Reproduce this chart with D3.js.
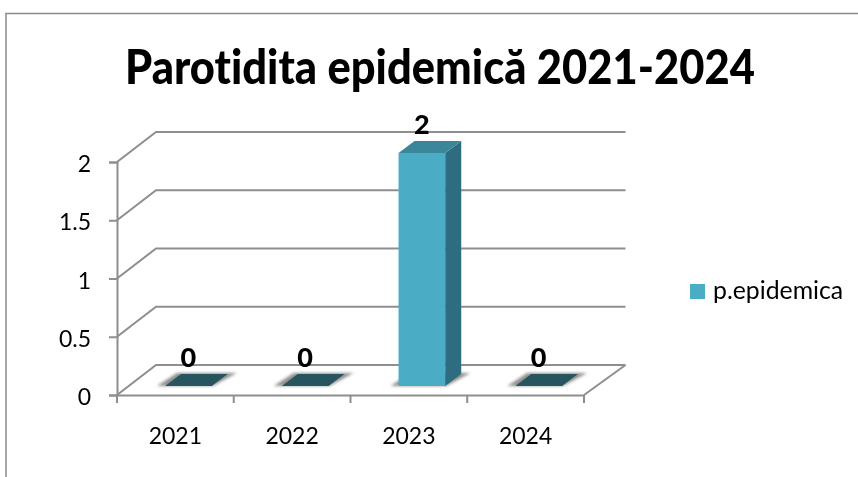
<!DOCTYPE html>
<html>
<head>
<meta charset="utf-8">
<script src="https://cdn.jsdelivr.net/npm/d3@7"></script>
<style>
  html, body { margin: 0; padding: 0; background: #fff; }
  svg { display: block; }
  text { font-family: Lato, "Open Sans", sans-serif; fill: #000; font-variant-ligatures: none; }
</style>
</head>
<body>
<div id="chart"></div>
<script>
const years = ["2021", "2022", "2023", "2024"];
const cases = [0, 0, 2, 0];
const valueTicks = [0, 0.5, 1, 1.5, 2];
const seriesName = "p.epidemica";
const chartTitle = "Parotidita epidemică 2021-2024";

const width = 858, height = 477;
const gridColor = "#8e8e8e";

// depth of the fake 3d box, and of the bar inside it
const wallDx = 39, wallDy = -30, wallRight = 625.5;
const barShiftX = 13, barShiftY = -9;
const barDepthX = 16, barDepthY = -12;

const svg = d3.select("#chart").append("svg")
    .attr("width", width)
    .attr("height", height);

const defs = svg.append("defs");
defs.append("filter").attr("id", "floorShadow")
    .attr("x", "-30%").attr("y", "-50%").attr("width", "160%").attr("height", "200%")
    .append("feGaussianBlur").attr("stdDeviation", 1.8);
//the reference is a slightly soft rescaled image
defs.append("filter").attr("id", "soft")
    .attr("filterUnits", "userSpaceOnUse")
    .attr("x", 0).attr("y", 0).attr("width", width).attr("height", height)
    .append("feGaussianBlur").attr("stdDeviation", 0.35);

const root = svg.append("g").attr("filter", "url(#soft)");

//frame, only left and top are visible in the crop
root.append("path")
    .attr("d", `M6,${height}V13.5H${width}`)
    .attr("fill", "none")
    .attr("stroke", "#8a8a8a")
    .attr("stroke-width", 1.5);

root.append("text")
    .attr("x", 440)
    .attr("y", 84)
    .attr("text-anchor", "middle")
    .attr("font-size", 48)
    .attr("font-weight", 900)
    .attr("textLength", 630)
    .attr("lengthAdjust", "spacingAndGlyphs")
    .text(chartTitle);

const x = d3.scaleBand().domain(years).range([117, 584]);
const y = d3.scaleLinear().domain([0, 2]).range([395, 162]);
const barWidth = x.bandwidth() * 0.4;

//back wall gridlines and their slanted side
const grid = root.append("g")
    .attr("fill", "none")
    .attr("stroke", gridColor)
    .attr("stroke-width", 2);

grid.selectAll("path")
    .data(valueTicks)
    .join("path")
    .attr("d", d => `M${x.range()[0]},${y(d)}l${wallDx},${wallDy}H${wallRight}`);

//front edge of the floor, right side
grid.append("path")
    .attr("d", `M${x.range()[1]},${y(0)}L${wallRight},${y(0) + wallDy}`);

//axes
const yAxis = root.append("g")
    .attr("transform", `translate(${x.range()[0]},0)`)
    .call(d3.axisLeft(y).tickValues(valueTicks).tickSize(8).tickPadding(18).tickFormat(d => d));

const xAxis = root.append("g")
    .attr("transform", `translate(0,${y(0)})`)
    .call(d3.axisBottom(x).tickSize(0).tickPadding(33));

xAxis.selectAll(".xEdge")
    .data(d3.range(years.length + 1))
    .join("line")
    .attr("class", "xEdge")
    .attr("x1", i => x.range()[0] + i * x.step())
    .attr("x2", i => x.range()[0] + i * x.step())
    .attr("y1", 0)
    .attr("y2", 8);

[yAxis, xAxis].forEach(axis => {
    axis.selectAll("path, line").attr("stroke", gridColor).attr("stroke-width", 2);
    axis.selectAll("text").attr("font-size", 23).attr("fill", "#000");
    axis.attr("font-family", null);
});
yAxis.selectAll("text").attr("dy", "0.42em");

//bars, zero ones collapse to the top face only
const bars = root.append("g")
    .selectAll("g")
    .data(years.map((year, i) => ({ year: year, value: cases[i] })))
    .join("g");

bars.each(function(d) {
    const g = d3.select(this);
    const left = x(d.year) + (x.bandwidth() - barWidth) / 2 + barShiftX;
    const right = left + barWidth;
    const base = y(0) + barShiftY;
    const top = y(d.value) + barShiftY;

    g.append("polygon")
        .attr("points", [
            [left - 8, base],
            [right + 1, base],
            [right + barDepthX + 9, base + barDepthY - 1],
            [left + barDepthX - 4, base + barDepthY - 1]
        ].join(" "))
        .attr("fill", "#8f8f8f")
        .attr("filter", "url(#floorShadow)");

    if (d.value > 0) {
        g.append("rect")
            .attr("x", left).attr("y", top)
            .attr("width", barWidth).attr("height", base - top)
            .attr("fill", "#4bacc6");
        g.append("polygon")
            .attr("points", [
                [right, top],
                [right + barDepthX, top + barDepthY],
                [right + barDepthX, base + barDepthY],
                [right, base]
            ].join(" "))
            .attr("fill", "#2f6d80");
    }

    g.append("polygon")
        .attr("points", [
            [left, top],
            [right, top],
            [right + barDepthX, top + barDepthY],
            [left + barDepthX, top + barDepthY]
        ].join(" "))
        .attr("fill", d.value > 0 ? "#3a869b" : "#25545f");

    g.append("text")
        .attr("x", left + barWidth / 2)
        .attr("y", y(d.value) - 28.5)
        .attr("text-anchor", "middle")
        .attr("font-size", 27)
        .attr("font-weight", 900)
        .text(d.value);
});

//legend
const legend = root.append("g");
legend.append("rect")
    .attr("x", 690).attr("y", 284)
    .attr("width", 15).attr("height", 15)
    .attr("fill", "#4bacc6");
legend.append("text")
    .attr("x", 713).attr("y", 299)
    .attr("font-size", 24.8)
    .text(seriesName);
</script>
</body>
</html>
